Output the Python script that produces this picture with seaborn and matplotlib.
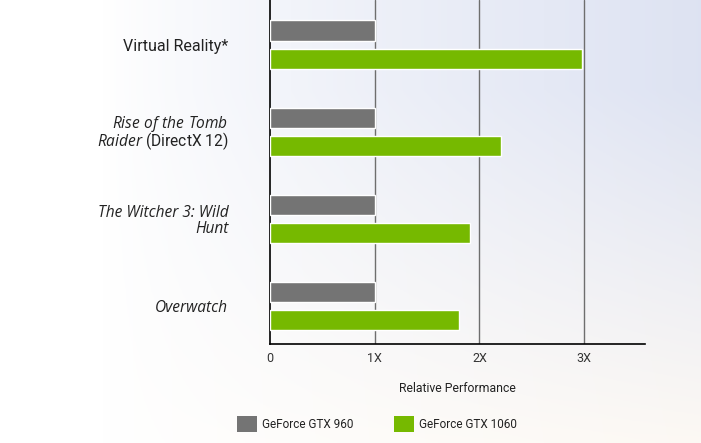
import numpy as np
import pandas as pd
import seaborn as sns
import matplotlib.pyplot as plt
from matplotlib.patches import Patch

games = ["Virtual Reality*", "Rise of the Tomb Raider", "The Witcher 3: Wild Hunt", "Overwatch"]
gpus = ["GeForce GTX 960", "GeForce GTX 1060"]
gtx960 = [1.0, 1.0, 1.0, 1.0]
gtx1060 = [2.98, 2.21, 1.91, 1.80]
tick_labels = [
    "Virtual Reality*",
    "$\\it{Rise\\ of\\ the\\ Tomb}$\n$\\it{Raider}$ (DirectX 12)",
    "The Witcher 3: Wild\nHunt",
    "Overwatch",
]
x_ticks = [0, 1, 2, 3]
x_tick_labels = ["0", "1X", "2X", "3X"]
colors = ["#747474", "#76b900"]

sns.set_theme(style="white")
plt.rcParams["font.family"] = ["Roboto", "DejaVu Sans"]
plt.rcParams["mathtext.fontset"] = "custom"
plt.rcParams["mathtext.it"] = "Open Sans:italic"
plt.rcParams["mathtext.rm"] = "Open Sans"

df = pd.DataFrame({
    "game": games * 2,
    "gpu": [gpus[0]] * 4 + [gpus[1]] * 4,
    "value": gtx960 + gtx1060,
})

W, H = 701, 443
fig = plt.figure(figsize=(W / 100, H / 100), dpi=100)

# soft background gradient: white on the left, pale blue top right, warm bottom right
bg = fig.add_axes([0, 0, 1, 1], zorder=-10)
xx = np.linspace(0, 1, 200)
yy = np.linspace(0, 1, 200)
X, Y = np.meshgrid(xx, yy)
white = np.array([1.0, 1.0, 1.0])
blue = np.array([0.87, 0.89, 0.95])
warm = np.array([0.99, 0.975, 0.955])
t = np.clip((X - 0.15) / 0.85, 0, 1)[..., None] ** 0.8
s = np.clip((Y - 0.0) / 0.8, 0, 1)[..., None]
right = blue * s + warm * (1 - s)
img = white * (1 - t) + right * t
bg.imshow(img, origin="lower", aspect="auto", extent=[0, 1, 0, 1])
bg.axis("off")

left, right_px, bottom_px = 270, 645, 344
ax = fig.add_axes([left / W, (H - bottom_px) / H, (right_px - left) / W, bottom_px / H])
ax.patch.set_alpha(0)

sns.barplot(data=df, x="value", y="game", hue="gpu", orient="h",
            palette=colors, width=0.644, gap=0.286, saturation=1,
            order=games, hue_order=gpus, ax=ax, zorder=3)

ax.set_xlim(0, 3.58)
ax.set_ylim(3.437, -0.511)
ax.set_xticks(x_ticks)
ax.set_xticklabels(x_tick_labels, fontsize=9, color="#333333")
ax.set_yticks(range(len(games)))
ax.set_yticklabels(tick_labels, fontsize=11.5, color="#222222")
for i, lab in enumerate(ax.get_yticklabels()):
    lab.set_horizontalalignment("right")
    if i in (2, 3):
        lab.set_fontfamily(["Open Sans", "DejaVu Sans"])
        lab.set_fontstyle("italic")
        lab.set_fontsize(11.2)
        lab.set_linespacing(1.0)
    elif i == 1:
        lab.set_fontsize(11.2)
        lab.set_linespacing(0.78)
ax.tick_params(axis="y", length=0, pad=30)
ax.tick_params(axis="x", length=0, pad=6)
ax.set_ylabel("")
ax.set_xlabel("Relative Performance", fontsize=8.8, color="#222222", labelpad=12)

for xv in x_ticks[1:]:
    ax.axvline(xv, color="#6e6e6e", lw=1, zorder=1)

for side in ["top", "right"]:
    ax.spines[side].set_visible(False)
ax.spines["left"].set_color("black")
ax.spines["bottom"].set_color("black")
ax.spines["left"].set_linewidth(1.2)
ax.spines["bottom"].set_linewidth(1.2)

if ax.get_legend() is not None:
    ax.get_legend().remove()
handles = [Patch(facecolor=c, edgecolor="none") for c in colors]
fig.legend(handles, gpus, loc="center", bbox_to_anchor=(377 / W, 1 - 424 / H),
           ncol=2, frameon=False, fontsize=8.5, handlelength=1.7, handleheight=1.7,
           handletextpad=0.45, columnspacing=3.4, labelcolor="#222222")

fig.savefig("out.png", dpi=100)
